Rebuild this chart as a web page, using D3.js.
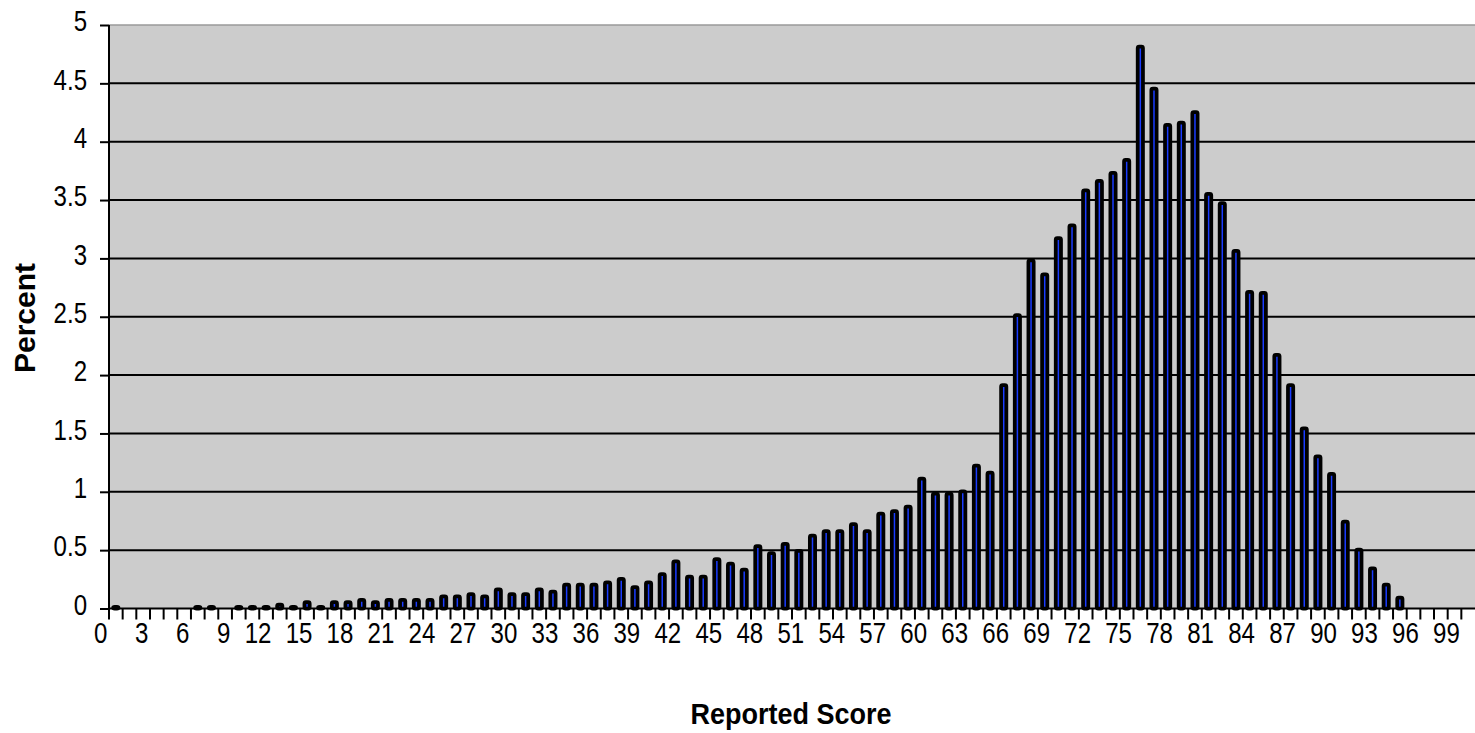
<!DOCTYPE html>
<html>
<head>
<meta charset="utf-8">
<script src="https://cdn.jsdelivr.net/npm/d3@7"></script>
<style>
  body { margin: 0; background: #fff; }
  svg { display: block; }
  .tick-label { font-family: "Liberation Sans", Arial, sans-serif; font-size: 29px; fill: #000; }
  .title { font-family: "Liberation Sans", Arial, sans-serif; font-weight: bold; font-size: 30px; fill: #000; }
</style>
</head>
<body>
<svg id="chart" width="1475" height="733"></svg>
<script>
const scores = d3.range(0, 100);

const percents = [
  0.03, 0, 0, 0, 0, 0, 0.03, 0.03, 0, 0.03,
  0.03, 0.03, 0.05, 0.03, 0.07, 0.03, 0.07, 0.07, 0.09, 0.07,
  0.09, 0.09, 0.09, 0.09, 0.12, 0.12, 0.14, 0.12, 0.18, 0.14,
  0.14, 0.18, 0.16, 0.22, 0.22, 0.22, 0.24, 0.27, 0.2, 0.24,
  0.31, 0.42, 0.29, 0.29, 0.44, 0.4, 0.35, 0.55, 0.49, 0.57,
  0.51, 0.64, 0.68, 0.68, 0.74, 0.68, 0.83, 0.85, 0.89, 1.13,
  1.0, 1.0, 1.02, 1.24, 1.18, 1.93, 2.53, 3.0, 2.88, 3.19,
  3.3, 3.6, 3.68, 3.75, 3.86, 4.83, 4.47, 4.16, 4.18, 4.27,
  3.57, 3.49, 3.08, 2.73, 2.72, 2.19, 1.93, 1.56, 1.32, 1.17,
  0.76, 0.52, 0.36, 0.22, 0.11, 0, 0, 0, 0, 0
];

const yTicks = d3.range(0, 5.01, 0.5);
const xLabels = scores.filter((d) => d % 3 === 0);

const margin = { top: 25, right: 0, bottom: 124.5, left: 109 };
const width = 1475;
const height = 733;
const narrow = 0.83; // squeeze glyphs to look like a narrow face

const svg = d3.select("#chart");

const x = d3
  .scaleBand()
  .domain(scores)
  .range([margin.left, width - margin.right]);

const y = d3
  .scaleLinear()
  .domain([0, 5])
  .range([height - margin.bottom, margin.top]);

// plot area
svg
  .append("rect")
  .attr("x", margin.left)
  .attr("y", margin.top)
  .attr("width", width - margin.left - margin.right)
  .attr("height", y(0) - margin.top)
  .attr("fill", "#cccccc");

// gridlines
svg
  .selectAll(".grid")
  .data(yTicks.filter((d) => d > 0))
  .enter()
  .append("line")
  .attr("x1", margin.left)
  .attr("x2", width - margin.right)
  .attr("y1", (d) => y(d))
  .attr("y2", (d) => y(d))
  .attr("stroke", (d) => (d === 5 ? "#9a9a9a" : "#000"))
  .attr("stroke-width", (d) => (d === 5 ? 1.5 : 2));

// bars
const barW = 5.25;
const barStroke = 3.75;

svg
  .selectAll(".bar")
  .data(scores.filter((d) => percents[d] > 0))
  .enter()
  .append("rect")
  .attr("x", (d) => x(d) + x.bandwidth() / 2 - barW / 2)
  .attr("y", (d) => y(percents[d]) + barStroke / 2)
  .attr("width", barW)
  .attr("height", (d) => Math.max(0.5, y(0) - y(percents[d]) - barStroke / 2))
  .attr("rx", 1.5)
  .attr("fill", "#1a3cff")
  .attr("stroke", "#000")
  .attr("stroke-width", barStroke);

// y axis
const yAxis = svg
  .append("g")
  .attr("transform", `translate(${margin.left},0)`)
  .call(
    d3
      .axisLeft(y)
      .tickValues(yTicks)
      .tickSize(9)
      .tickPadding(13)
      .tickFormat((d) => d3.format("")(d))
  );
yAxis.attr("font-size", null).attr("font-family", null);
yAxis.select(".domain").remove();
yAxis.selectAll(".tick line").attr("stroke", "#000").attr("stroke-width", 2);
yAxis
  .selectAll(".tick text")
  .attr("class", "tick-label")
  .attr("x", -22 / narrow)
  .attr("dy", "0.2em")
  .attr("transform", `scale(${narrow},1)`);

// x axis ticks between categories
svg
  .selectAll(".xtick")
  .data(scores)
  .enter()
  .append("line")
  .attr("x1", (d) => x(d))
  .attr("x2", (d) => x(d))
  .attr("y1", y(0))
  .attr("y2", y(0) + 11)
  .attr("stroke", "#000")
  .attr("stroke-width", 2);

svg
  .selectAll(".xlabel")
  .data(xLabels)
  .enter()
  .append("text")
  .attr("class", "tick-label")
  .attr("transform", (d) => `translate(${x(d) - 1.5},${y(0) + 34}) scale(${narrow},1)`)
  .attr("text-anchor", "end")
  .text((d) => d);

// axis lines
svg
  .append("line")
  .attr("x1", margin.left)
  .attr("x2", width - margin.right)
  .attr("y1", y(0))
  .attr("y2", y(0))
  .attr("stroke", "#000")
  .attr("stroke-width", 2);

svg
  .append("line")
  .attr("x1", margin.left)
  .attr("x2", margin.left)
  .attr("y1", margin.top)
  .attr("y2", y(0) + 1)
  .attr("stroke", "#000")
  .attr("stroke-width", 2);

// titles
svg
  .append("text")
  .attr("class", "title")
  .attr("transform", "translate(791,724) scale(0.9,1)")
  .attr("text-anchor", "middle")
  .text("Reported Score");

svg
  .append("text")
  .attr("class", "title")
  .attr("transform", "translate(35,318) rotate(-90)")
  .attr("text-anchor", "middle")
  .text("Percent");
</script>
</body>
</html>
